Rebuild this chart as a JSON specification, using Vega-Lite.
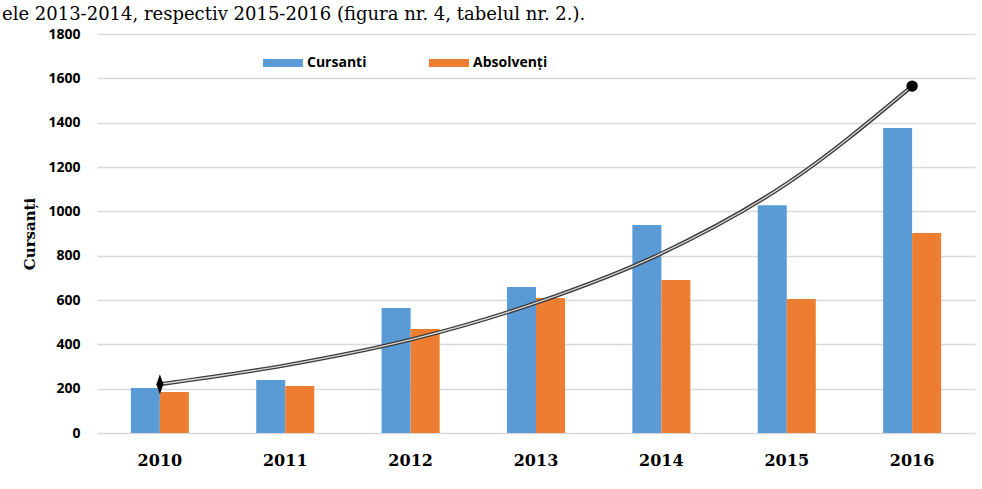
{
  "$schema": "https://vega.github.io/schema/vega-lite/v6.json",
  "autosize": "none",
  "width": 878,
  "height": 399,
  "padding": {"left": 97, "top": 34, "right": 7, "bottom": 56},
  "background": "white",
  "title": {
    "text": "ele 2013-2014, respectiv 2015-2016 (figura nr. 4, tabelul nr. 2.).",
    "anchor": "start",
    "frame": "group",
    "dx": -95,
    "dy": 21,
    "offset": 10,
    "baseline": "alphabetic",
    "font": "DejaVu Serif",
    "fontSize": 18,
    "fontWeight": "normal",
    "color": "#000000"
  },
  "config": {
    "view": {"stroke": null},
    "axis": {"grid": false, "domain": false, "ticks": false}
  },
  "datasets": {
    "bars": [
      {"year": "2010", "series": "Cursanti", "value": 203},
      {"year": "2010", "series": "Absolvenți", "value": 185},
      {"year": "2011", "series": "Cursanti", "value": 239},
      {"year": "2011", "series": "Absolvenți", "value": 212},
      {"year": "2012", "series": "Cursanti", "value": 564},
      {"year": "2012", "series": "Absolvenți", "value": 469},
      {"year": "2013", "series": "Cursanti", "value": 659},
      {"year": "2013", "series": "Absolvenți", "value": 609},
      {"year": "2014", "series": "Cursanti", "value": 938},
      {"year": "2014", "series": "Absolvenți", "value": 690},
      {"year": "2015", "series": "Cursanti", "value": 1028},
      {"year": "2015", "series": "Absolvenți", "value": 604},
      {"year": "2016", "series": "Cursanti", "value": 1376},
      {"year": "2016", "series": "Absolvenți", "value": 902}
    ],
    "trend": [
      {"year": "2010", "trend": 220},
      {"year": "2011", "trend": 305},
      {"year": "2012", "trend": 421},
      {"year": "2013", "trend": 587},
      {"year": "2014", "trend": 810},
      {"year": "2015", "trend": 1125},
      {"year": "2016", "trend": 1565}
    ],
    "ends": [
      {"year": "2010", "trend": 220, "kind": "start"},
      {"year": "2016", "trend": 1565, "kind": "end"}
    ]
  },
  "encoding": {
    "x": {
      "field": "year",
      "type": "nominal",
      "scale": {"domain": ["2010","2011","2012","2013","2014","2015","2016"], "paddingInner": 0.537, "paddingOuter": 0.27},
      "axis": {
        "title": null,
        "labelAngle": 0,
        "labelFont": "DejaVu Serif",
        "labelFontSize": 16,
        "labelFontWeight": "bold",
        "labelColor": "#000000",
        "labelPadding": 19
      }
    }
  },
  "layer": [
    {
      "data": {"name": "bars"},
      "mark": {"type": "bar"},
      "encoding": {
        "xOffset": {"field": "series", "type": "nominal", "scale": {"domain": ["Cursanti", "Absolvenți"], "paddingInner": 0}},
        "y": {
          "field": "value",
          "type": "quantitative",
          "scale": {"domain": [0, 1800], "nice": false},
          "axis": {
            "values": [0,200,400,600,800,1000,1200,1400,1600,1800],
            "format": "d",
            "grid": true,
            "gridColor": "#d9d9d9",
            "gridWidth": 1.5,
            "title": "Cursanți",
            "titleFont": "DejaVu Serif",
            "titleFontSize": 15,
            "titleFontWeight": "bold",
            "titleColor": "#000000",
            "titlePadding": 10,
            "labelFont": "Open Sans",
            "labelFontSize": 14,
            "labelFontWeight": "bold",
            "labelColor": "#000000",
            "labelPadding": 17
          }
        },
        "color": {
          "field": "series",
          "type": "nominal",
          "scale": {"domain": ["Cursanti", "Absolvenți"], "range": ["#5B9BD5", "#ED7D31"]},
          "legend": {
            "title": null,
            "orient": "none",
            "legendX": 166,
            "legendY": 9,
            "direction": "horizontal",
            "columns": 2,
            "columnPadding": 62,
            "symbolType": "M-1,-0.2H1V0.2H-1Z",
            "symbolSize": 1600,
            "symbolStrokeWidth": 0,
            "symbolOpacity": 1,
            "labelFont": "Open Sans",
            "labelFontSize": 14,
            "labelFontWeight": "bold",
            "labelColor": "#000000",
            "labelOffset": 4
          }
        }
      }
    },
    {
      "data": {"name": "trend"},
      "mark": {"type": "line", "interpolate": "monotone", "color": "#3a3a3a", "strokeWidth": 4},
      "encoding": {"y": {"field": "trend", "type": "quantitative"}}
    },
    {
      "data": {"name": "trend"},
      "mark": {"type": "line", "interpolate": "monotone", "color": "#d8d8d8", "strokeWidth": 1.3},
      "encoding": {"y": {"field": "trend", "type": "quantitative"}}
    },
    {
      "data": {"name": "ends"},
      "transform": [{"filter": "datum.kind === 'start'"}],
      "mark": {"type": "point", "shape": "M0,-1L0.35,0L0,1L-0.35,0Z", "filled": true, "color": "#000000", "size": 400, "opacity": 1},
      "encoding": {"y": {"field": "trend", "type": "quantitative"}}
    },
    {
      "data": {"name": "ends"},
      "transform": [{"filter": "datum.kind === 'end'"}],
      "mark": {"type": "point", "shape": "circle", "filled": true, "color": "#000000", "size": 130, "opacity": 1},
      "encoding": {"y": {"field": "trend", "type": "quantitative"}}
    }
  ]
}
